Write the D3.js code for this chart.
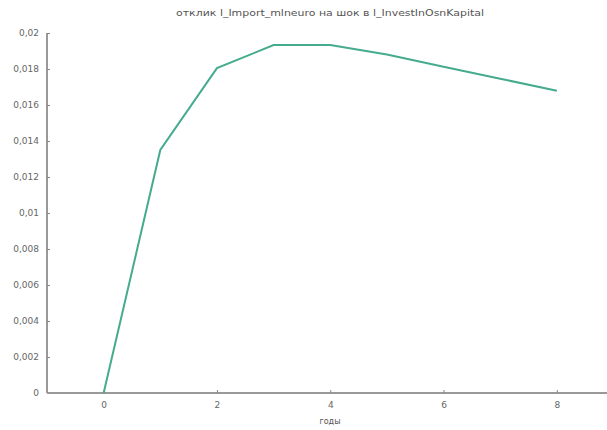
<!DOCTYPE html>
<html><head><meta charset="utf-8">
<script src="https://cdn.jsdelivr.net/npm/d3@7"></script>
<style>body{margin:0;background:#fff;} svg{display:block;}</style>
</head><body>
<svg id="c" width="607" height="430"></svg>
<script>
const periods = [0, 1, 2, 3, 4, 5, 6, 7, 8];
const response = [0, 0.0135, 0.01805, 0.01933, 0.01933, 0.0188, 0.01813, 0.01746, 0.01679];
const xTicks = [0, 2, 4, 6, 8];
const yTicks = [0, 0.002, 0.004, 0.006, 0.008, 0.01, 0.012, 0.014, 0.016, 0.018, 0.02];
const title = "отклик l_Import_mlneuro на шок в l_InvestInOsnKapital";
const xLabel = "годы";

const svg = d3.select("#c");
const m = {left: 47, top: 33, bottom: 37};
const W = 607, H = 430;
const x = d3.scaleLinear().domain([-1, 9]).range([m.left, m.left + 566.5]);
const y = d3.scaleLinear().domain([0, 0.02]).range([H - m.bottom, m.top]);
const fmt = d => d === 0 ? "0" : String(d).replace(".", ",");

svg.append("text").attr("x", 330).attr("y", 16).attr("text-anchor", "middle")
  .attr("font-family", "DejaVu Sans, sans-serif").attr("font-size", 9).attr("fill", "#555")
  .attr("textLength", 308).attr("lengthAdjust", "spacingAndGlyphs").text(title);

const yAx = svg.append("g").attr("transform", `translate(${m.left},0)`)
  .call(d3.axisRight(y).tickValues(yTicks).tickSize(3).tickFormat(fmt));
yAx.selectAll("text").attr("x", -8).attr("text-anchor", "end");
const xAx = svg.append("g").attr("transform", `translate(0,${H - m.bottom})`)
  .call(d3.axisTop(x).tickValues(xTicks).tickSize(3).tickFormat(fmt));
xAx.selectAll("text").attr("y", 15);
[yAx, xAx].forEach(g => {
  g.select(".domain").attr("stroke", "#999").attr("stroke-width", 2);
  g.selectAll(".tick line").attr("stroke", "#888");
  g.selectAll("text").attr("font-family", "DejaVu Sans, sans-serif").attr("font-size", 9).attr("fill", "#666");
});
xAx.select(".domain").attr("d", `M${m.left},0H${W}`);
yAx.select(".domain").attr("d", `M0,${m.top}V${H - m.bottom}`);

svg.append("text").attr("x", 330).attr("y", 424).attr("text-anchor", "middle")
  .attr("font-family", "DejaVu Sans, sans-serif").attr("font-size", 8).attr("fill", "#555").text(xLabel);

svg.append("path").datum(periods.map((p, i) => [p, response[i]]))
  .attr("fill", "none").attr("stroke", "#45ab8e").attr("stroke-width", 2)
  .attr("d", d3.line().x(d => x(d[0])).y(d => y(d[1])));
</script>
</body></html>
